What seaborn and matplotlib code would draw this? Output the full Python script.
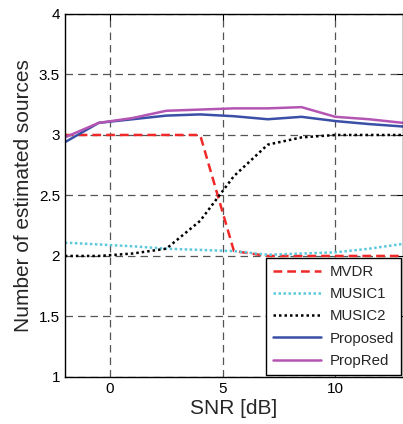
import numpy as np
import pandas as pd
import seaborn as sns
import matplotlib
matplotlib.use("Agg")
import matplotlib.pyplot as plt

# SNR grid and estimated number of sources per method
snr = [-2, -0.5, 1, 2.5, 4, 5.5, 7, 8.5, 10, 11.5, 13]
mvdr = [3.0, 3.0, 3.0, 3.0, 3.0, 2.04, 2.0, 2.0, 2.0, 2.0, 2.0]
music1 = [2.11, 2.095, 2.08, 2.06, 2.05, 2.04, 2.01, 2.02, 2.03, 2.06, 2.10]
music2 = [2.0, 2.0, 2.02, 2.06, 2.29, 2.66, 2.92, 2.98, 3.0, 3.0, 3.0]
proposed = [2.94, 3.10, 3.13, 3.16, 3.17, 3.155, 3.13, 3.15, 3.115, 3.09, 3.07]
propred = [2.98, 3.10, 3.14, 3.20, 3.21, 3.22, 3.22, 3.23, 3.15, 3.13, 3.10]

series = {
    "MVDR": mvdr,
    "MUSIC1": music1,
    "MUSIC2": music2,
    "Proposed": proposed,
    "PropRed": propred,
}
styles = {
    "MVDR": dict(color="#f02828", linestyle=(0, (3.5, 2))),
    "MUSIC1": dict(color="#5cc8dc", linestyle=(0, (1, 1))),
    "MUSIC2": dict(color="black", linestyle=(0, (1, 1.2))),
    "Proposed": dict(color="#3a4fa6", linestyle="-"),
    "PropRed": dict(color="#b455b4", linestyle="-"),
}

df = pd.DataFrame({"snr": snr, **series})

sns.set_style("white")
plt.rcParams["font.family"] = ["Liberation Sans", "DejaVu Sans"]

fig = plt.figure(figsize=(4.03, 4.24), dpi=100)
ax = fig.add_axes([0.161, 0.111, 0.839, 0.856])

for name in series:
    sns.lineplot(data=df, x="snr", y=name, ax=ax, label=name,
                 linewidth=1.8, **styles[name])

ax.set_xlim(-2, 13)
ax.set_ylim(1, 4)
ax.set_xticks([0, 5, 10])
ax.set_yticks([1, 1.5, 2, 2.5, 3, 3.5, 4])
ax.set_yticklabels(["1", "1.5", "2", "2.5", "3", "3.5", "4"])
ax.grid(True, color="#555555", linestyle=(0, (6, 4)), linewidth=0.9)
ax.set_axisbelow(True)
ax.tick_params(direction="in", length=4, labelsize=11, top=True, right=True,
               color="black", labelcolor="black")
for sp in ax.spines.values():
    sp.set_color("black")
    sp.set_linewidth(1.0)

ax.set_xlabel("SNR [dB]", fontsize=15, labelpad=2)
ax.set_ylabel("Number of estimated sources", fontsize=15, labelpad=4)

leg = ax.legend(loc="lower right", fontsize=10.8, frameon=True, fancybox=False,
                borderaxespad=0.15, handlelength=3.2, labelspacing=0.55,
                borderpad=0.45, handletextpad=0.6)
leg.get_frame().set_edgecolor("black")
leg.get_frame().set_linewidth(1.0)
leg.get_frame().set_alpha(1)

fig.savefig("out.png", dpi=100)
